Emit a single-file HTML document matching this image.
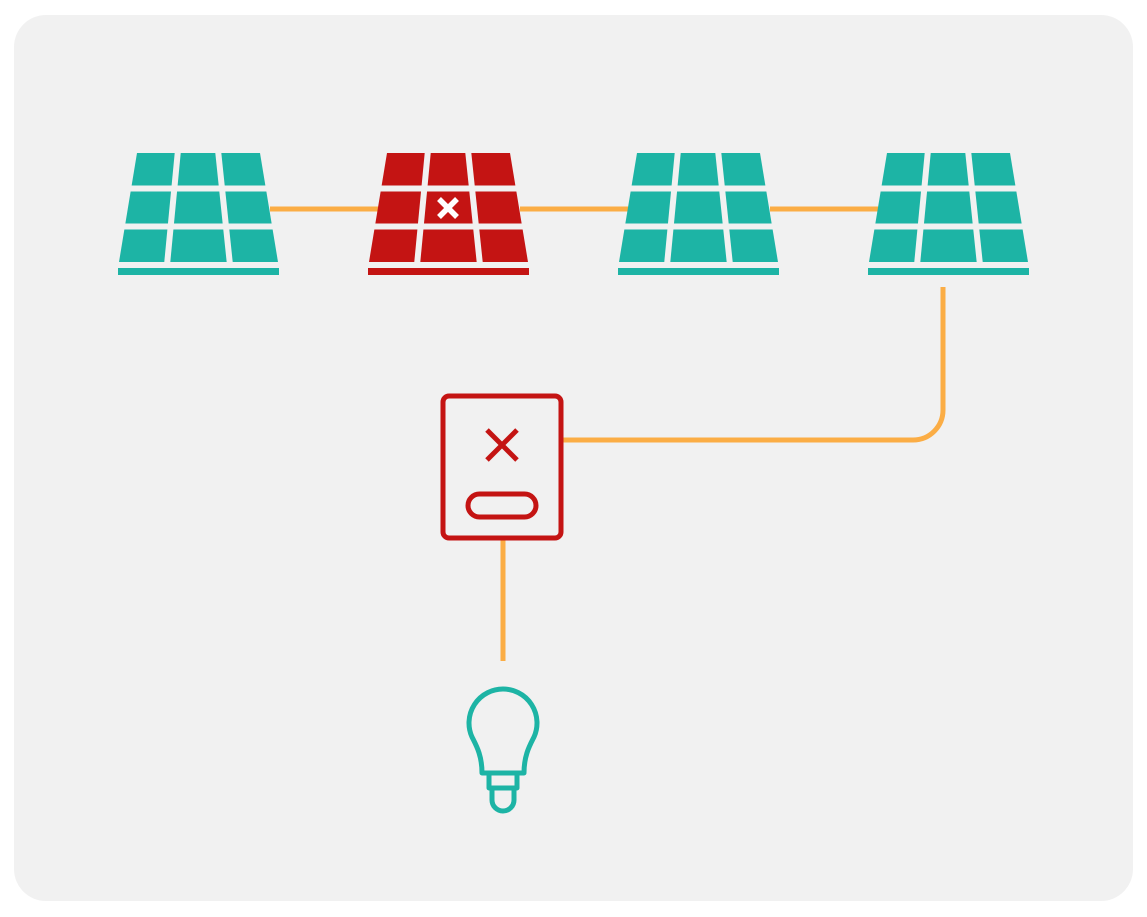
<!DOCTYPE html>
<html><head><meta charset="utf-8"><style>html,body{margin:0;padding:0;background:#fff}svg{display:block}</style></head>
<body>
<svg width="1147" height="917" viewBox="0 0 1147 917" xmlns="http://www.w3.org/2000/svg">
<rect x="14" y="15" width="1119" height="886" rx="32" fill="#f1f1f1"/>
<defs>
<g id="panel">
<path d="M137,153 L260,153 L278,262 L119,262 Z"/>
<rect x="118" y="268" width="161" height="7"/>
<g stroke="#f1f1f1" stroke-width="6">
<line x1="110" y1="188.5" x2="290" y2="188.5"/>
<line x1="110" y1="226.5" x2="290" y2="226.5"/>
<line x1="178" y1="150" x2="167" y2="265"/>
<line x1="218" y1="150" x2="230" y2="265"/>
</g>
</g>
</defs>
<g stroke="#fbad45" stroke-width="5" fill="none">
<line x1="270" y1="209" x2="380" y2="209"/>
<line x1="520" y1="209" x2="630" y2="209"/>
<line x1="770" y1="209" x2="880" y2="209"/>
<path d="M943,287 V410 A30,30 0 0 1 913,440 H562"/>
<line x1="503" y1="540" x2="503" y2="661"/>
</g>
<use href="#panel" fill="#1db4a5"/>
<use href="#panel" fill="#c41413" transform="translate(250,0)"/>
<use href="#panel" fill="#1db4a5" transform="translate(500,0)"/>
<use href="#panel" fill="#1db4a5" transform="translate(750,0)"/>
<g stroke="#fff" stroke-width="5.5"><line x1="439" y1="199" x2="457" y2="217"/><line x1="457" y1="199" x2="439" y2="217"/></g>
<g stroke="#c41413" stroke-width="5" fill="none">
<rect x="443" y="396" width="118" height="142" rx="6"/>
<line x1="487" y1="430" x2="517" y2="460"/><line x1="517" y1="430" x2="487" y2="460"/>
<rect x="468" y="494" width="68" height="23" rx="11.5"/>
</g>
<g stroke="#1db4a5" stroke-width="5" fill="none" stroke-linejoin="round">
<path d="M482,773 C482,755 476,745 472,737 A34,34 0 1 1 534,737 C530,745 524,755 524,773 Z"/>
<rect x="489" y="773" width="28" height="15"/>
<path d="M492,788 V800 A11,11 0 0 0 514,800 V788"/>
</g>
</svg>
</body></html>
